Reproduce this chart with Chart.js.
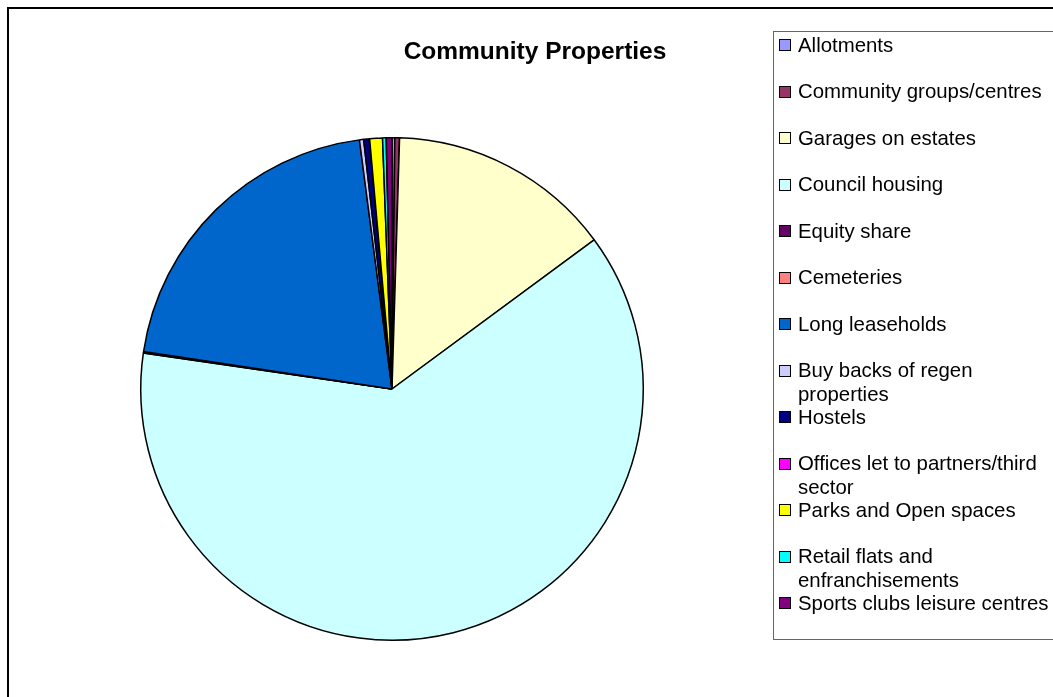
<!DOCTYPE html>
<html>
<head>
<meta charset="utf-8">
<script src="https://cdn.jsdelivr.net/npm/chart.js@4/dist/chart.umd.min.js"></script>
<style>
  html, body { margin: 0; padding: 0; background: #fff; }
  body { width: 1053px; height: 697px; position: relative; overflow: hidden; font-family: "Liberation Sans", Arial, sans-serif; }
  #frame { position: absolute; left: 7px; top: 7px; width: 1100px; height: 720px; border-left: 2px solid #000; border-top: 2px solid #000; }
  #wrap { position: absolute; left: 0; top: 0; width: 1053px; height: 697px; }
  #title { position: absolute; left: 335px; width: 400px; top: 36px; text-align: center; font-weight: bold; font-size: 24.5px; line-height: 30px; color: #000; }
  #legend { position: absolute; left: 773px; top: 31px; width: 320px; height: 607px; border: 1px solid #666; }
  .sw { position: absolute; left: 5px; width: 10px; height: 10px; border: 1.5px solid #000; }
  .lt { position: absolute; left: 24px; width: 258px; font-size: 20.4px; line-height: 23.5px; color: #000; white-space: normal; }
</style>
</head>
<body>
<div id="frame"></div>
<div id="wrap"><canvas id="c" width="1053" height="697"></canvas></div>
<div id="title">Community Properties</div>
<div id="legend"></div>
<script>
const categories = [
  "Allotments",
  "Community groups/centres",
  "Garages on estates",
  "Council housing",
  "Equity share",
  "Cemeteries",
  "Long leaseholds",
  "Buy backs of regen properties",
  "Hostels",
  "Offices let to partners/third sector",
  "Parks and Open spaces",
  "Retail flats and enfranchisements",
  "Sports clubs leisure centres"
];
const values = [0.18, 0.30, 14.4, 62.4, 0.05, 0.05, 20.55, 0.27, 0.36, 0.02, 0.82, 0.23, 0.37];
const colors = ["#9999FF", "#993366", "#FFFFCC", "#CCFFFF", "#660066", "#FF8080", "#0066CC",
                "#CCCCFF", "#000080", "#FF00FF", "#FFFF00", "#00FFFF", "#800080"];

const chart = new Chart(document.getElementById('c'), {
  type: 'pie',
  data: {
    labels: categories,
    datasets: [{
      data: values,
      backgroundColor: colors,
      borderColor: '#000',
      borderWidth: 1.5
    }]
  },
  options: {
    responsive: false,
    animation: false,
    layout: { padding: { left: 140, top: 137, right: 409, bottom: 56 } },
    plugins: { legend: { display: false }, tooltip: { enabled: false }, title: { display: false } }
  }
});

// HTML legend built from the chart's own legend items
const legendEl = document.getElementById('legend');
const items = Chart.overrides.pie.plugins.legend.labels.generateLabels(chart);
items.forEach((it, i) => {
  const rowC = 45.5 + 46.5 * i - 32; // relative to legend box inner top
  const sw = document.createElement('div');
  sw.className = 'sw';
  sw.style.top = (rowC - 6.5) + 'px';
  sw.style.background = it.fillStyle;
  const t = document.createElement('div');
  t.className = 'lt';
  t.style.top = (rowC - 11.75) + 'px';
  t.textContent = it.text;
  legendEl.appendChild(sw);
  legendEl.appendChild(t);
});
</script>
</body>
</html>
